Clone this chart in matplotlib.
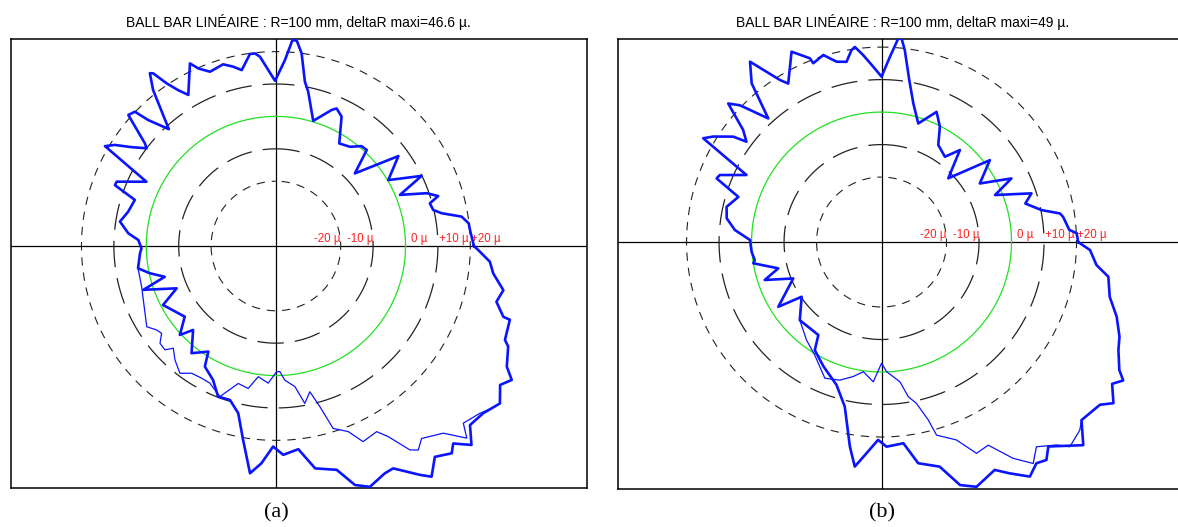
import numpy as np
import matplotlib
matplotlib.use('Agg')
import matplotlib.pyplot as plt
from matplotlib.transforms import blended_transform_factory

plt.rcParams['font.family'] = ['Liberation Sans', 'DejaVu Sans']
plt.rcParams['lines.scale_dashes'] = False

# radius (in micron units) that the "0 µ" reference circle sits at
R0 = 40.0
levels = [-20, -10, 0, 10, 20]
level_labels = ['-20 µ', '-10 µ', '0 µ', '+10 µ', '+20 µ']

titles = ['BALL BAR LINÉAIRE : R=100 mm, deltaR maxi=46.6 µ.',
          'BALL BAR LINÉAIRE : R=100 mm, deltaR maxi=49 µ.']
tags = ['(a)', '(b)']

# panel (a) - main (thick) run: angle in degrees, radial deviation in µ
ang_a = [0.0, 4.7, 6.7, 9.0, 11.2, 12.9, 15.5, 17.1, 19.3, 22.4, 25.7, 30.4, 36.3, 42.6,
         46.6, 49.4, 53.3, 58.3, 63.1, 66.2, 67.7, 73.4, 78.2, 80.0, 82.4, 84.2, 85.4,
         87.2, 90.3, 92.5, 94.8, 96.2, 97.7, 101.0, 103.4, 106.2, 110.7, 113.6, 115.2,
         120.1, 122.1, 123.9, 125.4, 126.1, 128.2, 132.5, 135.4, 136.4, 138.4, 141.9,
         142.9, 145.6, 147.9, 149.7, 153.6, 158.0, 159.3, 161.9, 166.9, 171.1, 175.1,
         177.5, 181.0, 183.1, 189.2, 192.2, 195.5, 198.3, 203.1, 207.6, 217.8, 222.8,
         225.4, 231.8, 237.4, 239.5, 244.9, 249.0, 253.4, 257.3, 260.4, 263.5, 266.2,
         269.2, 272.0, 276.3, 280.0, 285.2, 288.3, 291.3, 295.6, 297.8, 302.2, 304.0,
         307.0, 310.3, 311.9, 314.5, 317.3, 321.1, 323.0, 324.9, 328.2, 330.4, 332.4,
         336.6, 337.7, 342.5, 342.7, 345.8, 349.0, 352.8, 355.8, 358.9]
dev_a = [21.1, 20.1, 19.9, 18.0, 12.1, 9.8, 9.3, 12.4, 9.3, 1.4, 9.9, 0.2, 6.9, -6.9,
         0.8, 0.6, -1.8, -2.8, 4.8, 6.4, 5.4, 0.3, 8.7, 11.5, 20.0, 23.7, 23.8,
         17.5, 11.0, 14.4, 18.6, 19.8, 19.8, 15.3, 16.9, 18.4, 17.5, 19.8, 22.3,
         13.9, 16.8, 20.5, 25.4, 26.0, 21.3, 8.9, 15.4, 20.1, 20.9, 11.4,
         10.0, 14.0, 18.7, 21.1, 4.6, 13.0, 13.1, 5.8, 6.8, 8.7, 5.7,
         2.5, 1.5, 2.0, 3.1, -0.2, -4.4, 3.1, -6.7, -0.7, -4.4, 0.4,
         -3.6, 2.1, -1.3, 3.2, 5.7, 9.8, 9.6, 12.9, 20.7, 30.6, 27.2,
         21.9, 24.5, 23.1, 29.7, 31.6, 37.7, 39.8, 37.8, 37.6, 43.5, 45.9,
         41.5, 43.9, 41.9, 46.1, 41.5, 42.2, 43.3, 44.5, 41.4, 43.7, 40.4,
         38.1, 36.4, 35.7, 33.5, 30.2, 31.5, 27.6, 26.2, 22.4]

# panel (a) - second (thin) run where it leaves the main one
ang_a2 = [189.2, 196.9, 212.0, 215.2, 217.4, 220.0, 223.1, 224.9, 228.5, 233.0, 236.5,
          240.7, 244.3, 249.6, 254.7, 259.0, 262.3, 266.8, 270.3, 271.8, 273.8, 277.7,
          280.4, 283.1, 285.3, 287.4, 291.3, 294.0, 298.5, 300.5, 303.3, 304.9, 307.1,
          311.8, 314.8, 316.6, 320.6, 323.0]
dev_a2 = [3.1, 3.3, 7.0, 5.0, 4.4, 6.7, 6.9, 4.7, 7.0, 9.2, 7.1,
          6.8, 7.0, 9.6, 4.0, 4.8, 0.7, 2.4, -1.2, -1.2, 1.5, 3.8,
          9.4, 6.2, 11.4, 19.0, 21.5, 26.1, 25.2, 28.3, 35.3, 36.8, 34.5,
          37.5, 43.6, 39.6, 41.4, 43.3]

# panel (b) - main (thick) run
ang_b = [0.0, 2.6, 3.7, 7.9, 9.1, 11.3, 15.0, 18.0, 22.5, 26.1, 30.8, 37.1, 43.7, 49.6,
         53.4, 59.7, 63.2, 67.1, 72.8, 77.1, 80.3, 83.1, 84.4, 85.3, 87.4, 90.0, 92.7,
         95.6, 97.8, 98.9, 101.0, 104.0, 107.3, 110.9, 111.3, 115.3, 120.5, 122.1, 126.1,
         129.3, 132.5, 136.0, 137.9, 141.0, 143.4, 144.6, 147.9, 149.8, 153.6, 157.5,
         158.9, 162.5, 167.2, 171.3, 175.3, 179.1, 184.3, 188.1, 189.4, 194.3, 198.0,
         202.4, 212.1, 214.4, 223.7, 235.8, 238.3, 245.1, 252.5, 257.4, 261.2, 263.2,
         265.9, 269.0, 271.4, 276.2, 279.4, 284.5, 287.9, 291.2, 296.4, 299.0, 302.3,
         305.0, 307.1, 309.2, 314.8, 318.3, 323.3, 325.2, 328.4, 330.2, 331.7, 335.5,
         338.3, 342.4, 346.5, 351.3, 353.9, 357.8]
dev_b = [20.5, 20.1, 17.9, 16.4, 15.6, 10.2, 5.8, 8.5, -2.2, 4.5, -4.8, 1.8, -11.6, -2.8,
         -7.3, -5.4, -0.2, 3.5, -1.8, 3.8, 10.6, 19.5, 23.0, 22.9, 17.1, 10.9, 14.0,
         17.8, 20.6, 19.8, 16.5, 17.2, 20.3, 18.9, 20.7, 24.8, 16.6, 18.9, 28.7,
         23.1, 11.6, 20.6, 23.6, 14.8, 11.8, 16.0, 21.1, 23.5, 6.4, 13.9,
         14.4, 6.2, 8.9, 8.2, 5.3, 0.5, 0.1, -0.6, 0.0, -7.2, -2.2,
         -10.6, -2.5, -10.2, -5.2, -5.4, -0.9, 2.3, 6.1, 11.9, 23.7, 29.6,
         25.2, 20.9, 23.0, 22.3, 29.0, 31.4, 38.6, 40.8, 38.3, 41.4, 45.4,
         43.1, 44.1, 41.2, 48.1, 42.4, 43.8, 46.9, 43.3, 45.7, 43.1, 40.1,
         38.8, 35.9, 32.2, 30.6, 26.5, 24.2]

# panel (b) - second (thin) run where it leaves the main one
ang_b2 = [223.7, 232.6, 239.4, 247.4, 253.2, 258.1, 262.0, 266.6, 270.0, 272.2, 277.5,
          279.8, 282.2, 284.7, 285.9, 290.7, 294.2, 297.7, 301.3, 304.4, 307.1, 310.8,
          312.6, 316.5, 318.3]
dev_b2 = [-5.2, -2.0, 0.4, 5.4, 4.4, 2.3, 0.3, 3.1, -2.7, -0.1, 3.4,
          8.3, 10.8, 16.6, 21.8, 25.1, 31.3, 30.6, 37.9, 42.6, 39.0, 42.5,
          45.6, 44.1, 42.4]

BLUE = '#0a14ff'

fig = plt.figure(figsize=(11.78, 5.27), dpi=100)


def to_xy(ang, dev, close=False):
    t = np.radians(np.asarray(ang, dtype=float))
    r = R0 + np.asarray(dev, dtype=float)
    x, y = r * np.cos(t), r * np.sin(t)
    if close:
        x, y = np.append(x, x[0]), np.append(y, y[0])
    return x, y


def panel(rect, xlim, ylim, ang, dev, ang2, dev2, title, tag):
    ax = fig.add_axes(rect)
    ax.set_xlim(xlim)
    ax.set_ylim(ylim)
    ax.set_xticks([])
    ax.set_yticks([])
    for s in ax.spines.values():
        s.set_linewidth(1.1)
    ax.axhline(0, color='k', lw=0.9, zorder=1)
    ax.axvline(0, color='k', lw=0.9, zorder=1)

    t = np.radians(np.linspace(90, 450, 721))
    for lev, lab in zip(levels, level_labels):
        r = R0 + lev
        if lev == 0:
            ax.plot(r * np.cos(t), r * np.sin(t), color='#22e022', lw=0.9, zorder=2)
        elif abs(lev) == 10:
            ax.plot(r * np.cos(t), r * np.sin(t), color='#222222', lw=0.9,
                    linestyle=(9.5, (19, 8)), zorder=2)
        else:
            ax.plot(r * np.cos(t), r * np.sin(t), color='#222222', lw=0.8,
                    linestyle=(3, (6, 5)), zorder=2)
        if lev < 0:
            ax.text(r, 0.2, lab, color='#ff2020', fontsize=8.3, ha='right', va='bottom', zorder=3)
        else:
            ax.text(r + (1.8 if lev == 0 else 0.2), 0.2, lab, color='#ff2020', fontsize=8.3,
                    ha='left', va='bottom', zorder=3)

    x, y = to_xy(ang2, dev2)
    ax.plot(x, y, color=BLUE, lw=0.9, zorder=4)
    x, y = to_xy(ang, dev, close=True)
    ax.plot(x, y, color=BLUE, lw=1.9, zorder=5)

    ax.set_title(title, fontsize=10, pad=9)
    tr = blended_transform_factory(ax.transData, fig.transFigure)
    ax.text(0, 0.026, tag, transform=tr, ha='center', va='center',
            fontsize=16, family=['Liberation Serif', 'DejaVu Serif'])
    return ax


# axes rectangles in figure fractions, limits in micron units around the centre
panel([10.5 / 1178, 1 - 488 / 527, 576.5 / 1178, 448.7 / 527],
      (-81.9, 96.0), (-74.7, 63.8), ang_a, dev_a, ang_a2, dev_a2, titles[0], tags[0])
panel([618 / 1178, 1 - 489.3 / 527, 570 / 1178, 450 / 527],
      (-81.1, 94.3), (-76.1, 62.4), ang_b, dev_b, ang_b2, dev_b2, titles[1], tags[1])

fig.savefig('out.png', dpi=100)
